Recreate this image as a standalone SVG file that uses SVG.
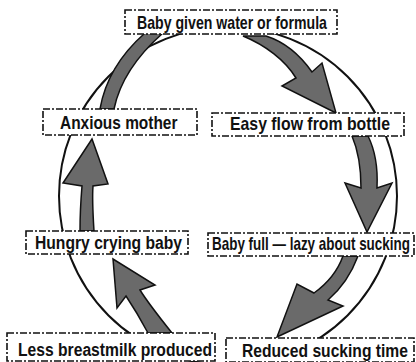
<svg xmlns="http://www.w3.org/2000/svg" width="416" height="362" viewBox="0 0 416 362">
<style>
.box{fill:#fff;stroke:#111;stroke-width:1.6;stroke-dasharray:7 2 2 2}
.lbl{font-family:"Liberation Sans",Arial,sans-serif;font-weight:bold;font-size:18px;fill:#111}
.arr{fill:#6a6a6a;stroke:#111;stroke-width:1.5;stroke-linejoin:miter}
.ring{fill:none;stroke:#111;stroke-width:2}
</style>
<rect width="416" height="362" fill="#fff"/>
<g id="connectors">
<circle class="ring" cx="228" cy="196" r="169"/>
<path class="arr" d="M243 36 C265 45 285 60 296 78 L282 86 L336 113 L322 63 L312 72 C300 55 285 42 266 36 Z"/>
<path class="arr" d="M352 136 C358 150 361 168 361 188 L345 183 L367 232 L392 183 L377 188 C378 168 375 150 368 136 Z"/>
<path class="arr" d="M343 256 C338 270 328 283 314 293 L297 284 L277 337 L343 306 L328 300 C342 288 352 272 358 256 Z"/>
<path class="arr" d="M148 333 C140 318 132 305 126 296 L117 308 L113 259 L155 285 L140 290 C148 303 160 318 172 333 Z"/>
<path class="arr" d="M80 231 C80 215 81 198 82 186 L63 183 L92 139 L108 184 L93 186 C92 200 93 215 94 231 Z"/>
<path class="arr" d="M100 109 C105 80 120 55 145 33 L163 33 C138 55 120 80 114 109 Z"/>
</g>
<g id="n1"><rect class="box" x="125" y="10" width="212" height="24"/><text class="lbl" transform="translate(137 29) scale(0.785 1)" textLength="242" lengthAdjust="spacingAndGlyphs">Baby given water or formula</text></g>
<g id="n2"><rect class="box" x="212" y="113" width="192" height="23"/><text class="lbl" transform="translate(230 130) scale(0.879 1)" textLength="182" lengthAdjust="spacingAndGlyphs">Easy flow from bottle</text></g>
<g id="n3"><rect class="box" x="208" y="233" width="206" height="23"/><text class="lbl" transform="translate(212 250) scale(0.747 1)" textLength="265" lengthAdjust="spacingAndGlyphs">Baby full — lazy about sucking</text></g>
<g id="n4"><rect class="box" x="226" y="338" width="188" height="24"/><text class="lbl" transform="translate(242 357) scale(0.869 1)" textLength="191" lengthAdjust="spacingAndGlyphs">Reduced sucking time</text></g>
<g id="n5"><rect class="box" x="7" y="333" width="208" height="28"/><text class="lbl" transform="translate(18 356) scale(0.87 1)" textLength="223" lengthAdjust="spacingAndGlyphs">Less breastmilk produced</text></g>
<g id="n6"><rect class="box" x="26" y="231" width="162" height="23"/><text class="lbl" transform="translate(35 249) scale(0.87 1)" textLength="169" lengthAdjust="spacingAndGlyphs">Hungry crying baby</text></g>
<g id="n7"><rect class="box" x="43" y="109" width="154" height="26"/><text class="lbl" transform="translate(60 129) scale(0.81 1)" textLength="145" lengthAdjust="spacingAndGlyphs" style="font-size:19px">Anxious mother</text></g>
</svg>
